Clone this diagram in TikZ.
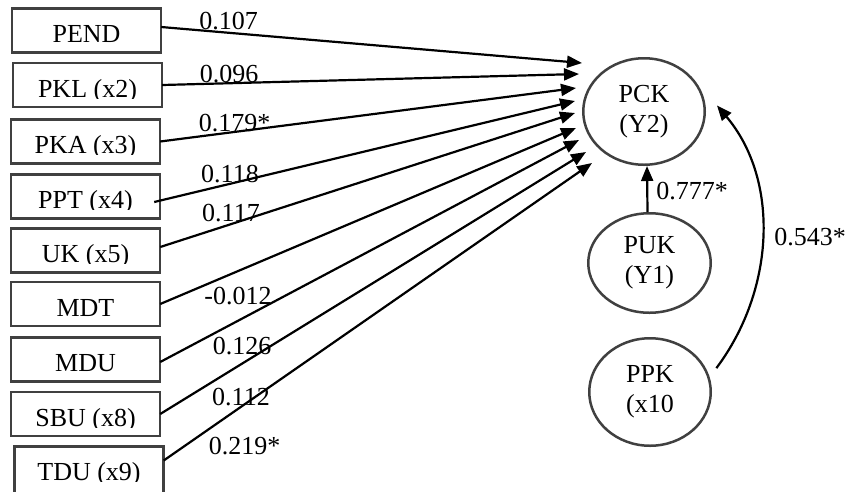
\documentclass[tikz,border=0pt]{standalone}
\usepackage{fontspec}
\setmainfont{Liberation Serif}
\usetikzlibrary{arrows.meta,shapes.geometric}

\begin{document}
\begin{tikzpicture}[x=1pt, y=-1pt, font=\fontsize{26}{30}\selectfont,
        varbox/.style={minimum width=149pt, minimum height=44pt, inner sep=0pt,
            text height=34pt, text depth=10pt},
        boxline/.style={draw=black!75, line width=2.5pt},
        latent/.style={ellipse, draw=black!75, line width=2.5pt, inner sep=0pt,
            align=center},
        effect/.style={line width=2.2pt, -{Triangle[length=15pt, width=12pt]}},
        weight/.style={inner sep=0pt}]
        \useasboundingbox (0,0) rectangle (848,491);

        % text boxes of the predictors, descenders cut off at the bottom
        \begin{scope}
        \clip (0,8.5) rectangle (170,43.5) (0,63) rectangle (170,98)
            (0,119.5) rectangle (170,154.5) (0,174.5) rectangle (170,209.5)
            (0,228.5) rectangle (170,263.5) (0,282) rectangle (170,317)
            (0,337.5) rectangle (170,372.5) (0,392) rectangle (170,427)
            (0,446.5) rectangle (170,481.5);
        \node [varbox] (pend) at (86.5,30.5) {PEND};
        \node [varbox] (pkl) at (87.5,85) {PKL (x2)};
        \node [varbox] (pka) at (85.5,141.5) {PKA (x3)};
        \node [varbox] (ppt) at (85.5,196.5) {PPT (x4)};
        \node [varbox] (uk) at (85.5,250.5) {UK (x5)};
        \node [varbox] (mdt) at (85.5,304) {MDT};
        \node [varbox] (mdu) at (85.5,359.5) {MDU};
        \node [varbox] (sbu) at (85.5,414) {SBU (x8)};
        \node [varbox, minimum height=48pt, text depth=14pt] (tdu)
            at (89,470.5) {TDU (x9)};
        \end{scope}
        \foreach \b in {pend,pkl,pka,ppt,uk,mdt,mdu,sbu,tdu}
            \draw [boxline] (\b.south west) rectangle (\b.north east);

        \node [latent, minimum width=121.5pt, minimum height=106.5pt] (pck)
            at (644,111.5) {PCK\\(Y2)};
        \node [latent, minimum width=122.5pt, minimum height=99.5pt] (puk)
            at (649.5,263) {PUK\\(Y1)};
        \node [latent, minimum width=121.5pt, minimum height=107.5pt] (ppk)
            at (650,392) {PPK\\(x10};

        % arrow tips fanned out left of PCK
        \coordinate (t1) at (582,63);
        \coordinate (t2) at (579,74);
        \coordinate (t3) at (576,88);
        \coordinate (t4) at (575,101);
        \coordinate (t5) at (575,113);
        \coordinate (t6) at (576,128);
        \coordinate (t7) at (579,140);
        \coordinate (t8) at (586,152);
        \coordinate (t9) at (592,163);

        \draw [effect] ([yshift=3.5pt]pend.east) -- (t1);
        \draw [effect] (pkl.east) -- (t2);
        \draw [effect] (pka.east) -- (t3);
        \draw [effect] ([xshift=-6pt, yshift=-5.5pt]ppt.east) -- (t4);
        \draw [effect] ([yshift=3.5pt]uk.east) -- (t5);
        \draw [effect] (mdt.east) -- (t6);
        \draw [effect] ([yshift=-2.5pt]mdu.east) -- (t7);
        \draw [effect] (sbu.east) -- (t8);
        \draw [effect] ([yshift=10pt]tdu.east) -- (t9);

        \draw [effect] ([xshift=-2pt]puk.north) -- ([xshift=3pt]pck.south);
        \draw [effect] ([shift={(9pt,3pt)}]ppk.20) .. controls (775,290)
            and (780,180) .. ([shift={(11pt,6pt)}]pck.east);

        \node [weight] (w1) at (228.5,21) {0.107};
        \node [weight] (w2) at (229,74) {0.096};
        \node [weight] (w3) at (234.5,123) {0.179*};
        \node [weight] (w4) at (230,174) {0.118};
        \node [weight] (w5) at (231,213.5) {0.117};
        \node [weight] (w6) at (238,296) {-0.012};
        \node [weight] (w7) at (242,346) {0.126};
        \node [weight] (w8) at (241,397) {0.112};
        \node [weight] (w9) at (244.5,446) {0.219*};
        \node [weight] (w10) at (692,191) {0.777*};
        \node [weight] (w11) at (810,237) {0.543*};
\end{tikzpicture}
\end{document}
